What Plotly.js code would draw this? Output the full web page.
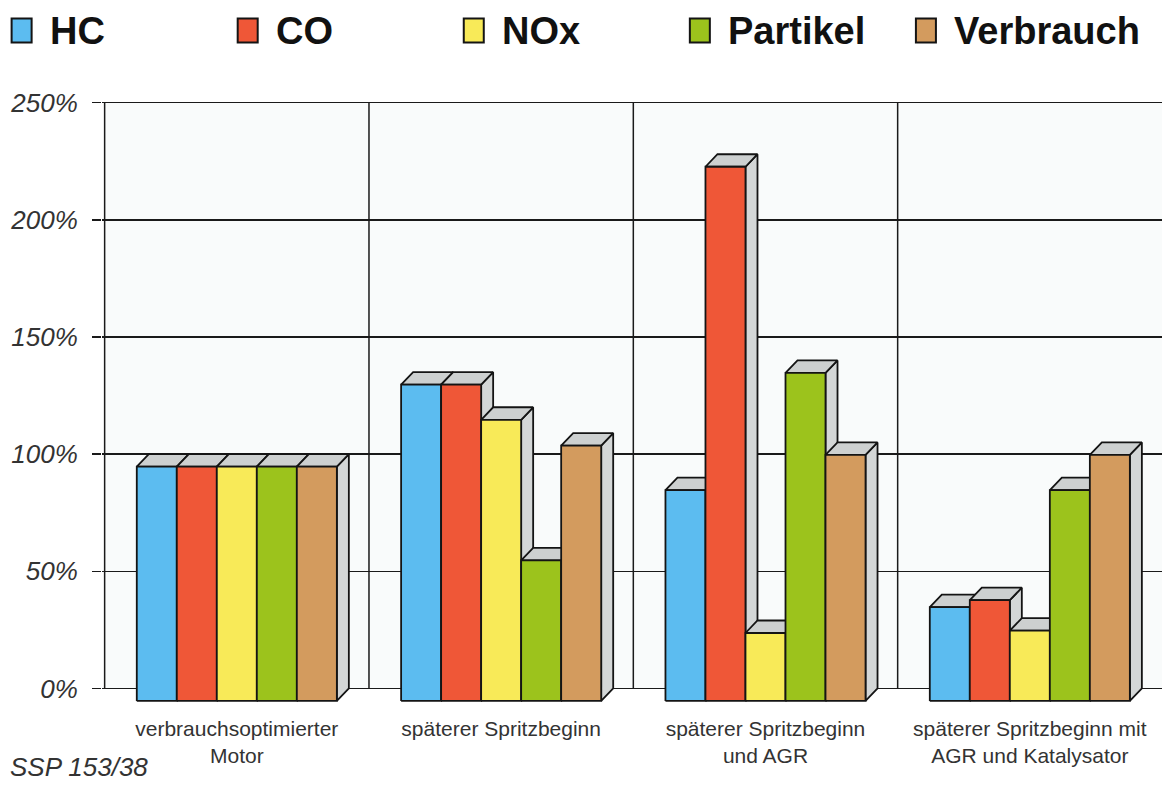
<!DOCTYPE html>
<html>
<head>
<meta charset="utf-8">
<script src="https://cdn.plot.ly/plotly-3.0.1.min.js"></script>
<style>html,body{margin:0;padding:0;background:#fff;}#chart{width:1166px;height:786px;}</style>
</head>
<body>
<div id="chart"></div>
<script>
// ---------------- DATA ----------------
const categories = [
  'verbrauchsoptimierter<br>Motor',
  'späterer Spritzbeginn',
  'späterer Spritzbeginn<br>und AGR',
  'späterer Spritzbeginn mit<br>AGR und Katalysator'
];
const seriesNames = ['HC', 'CO', 'NOx', 'Partikel', 'Verbrauch'];
const hc        = [100, 135,  90, 40];
const co        = [100, 135, 228, 43];
const nox       = [100, 120,  29, 30];
const partikel  = [100,  60, 140, 90];
const verbrauch = [100, 109, 105, 105];
const yTickVals = [0, 50, 100, 150, 200, 250];
const yTickText = ['0%', '50%', '100%', '150%', '200%', '250%'];
const footnote = 'SSP 153/38';

// ---------------- STYLE ----------------
const seriesValues = [hc, co, nox, partikel, verbrauch];
const colors = ['#5cbcf0', '#ef5737', '#f8ea58', '#9cc31c', '#d39b5e'];
const topGray = '#cdd0d0', sideGray = '#d4d7d7', edge = '#141414';
const W = 1166, H = 786;
const wallLeft = 105, zeroY = 688, pxPerPct = 2.34, catPx = 264.25;
const xRange = [-0.01, 4], yRange = [-7.5, 252];
const mL = wallLeft + xRange[0] * catPx;
const mR = W - (wallLeft + xRange[1] * catPx);
const mT = zeroY - yRange[1] * pxPerPct;
const mB = H - (zeroY - yRange[0] * pxPerPct);
const depthX = 12 / catPx;        // 3D depth, in x-axis units
const depthY = 12.5 / pxPerPct;   // 3D depth, in y-axis units
const barW = 40 / catPx;          // width of one bar, in x-axis units

const traces = [];
function poly(xs, ys, fill) {
  traces.push({
    type: 'scatter', mode: 'lines', x: xs, y: ys, fill: 'toself',
    fillcolor: fill, line: {color: edge, width: 1.8},
    hoverinfo: 'skip', showlegend: false
  });
}
categories.forEach((c, g) => {
  const center = g + 0.5;
  seriesValues.forEach((vals, s) => {
    const v = vals[g];
    const xl = center - 2.5 * barW + s * barW;
    const xr = xl + barW;
    const b = -depthY, t = v - depthY;
    // right side face
    poly([xr, xr + depthX, xr + depthX, xr, xr], [b, 0, v, t, b], sideGray);
    // top face
    poly([xl, xl + depthX, xr + depthX, xr, xl], [t, v, v, t, t], topGray);
    // front face
    poly([xl, xr, xr, xl, xl], [b, b, t, t, b], colors[s]);
  });
});

// wall background + vertical wall lines
const shapes = [{
  type: 'rect', xref: 'x', yref: 'y', x0: 0, x1: 4, y0: 0, y1: 250,
  fillcolor: '#f9fbfb', line: {width: 0}, layer: 'below'
}];
for (let k = 0; k < categories.length; k++) {
  shapes.push({type: 'line', xref: 'x', yref: 'y', x0: k, x1: k, y0: 0, y1: 250,
    line: {color: '#1a1a1a', width: 1.5}, layer: 'between'});
}

// manual legend (pixel helpers)
const plotW = W - mL - mR, plotH = H - mT - mB;
const px2x = p => (p - mL) / plotW;
const px2y = p => (H - mB - p) / plotH;
const annotations = [];
seriesNames.forEach((name, i) => {
  const left = 12 + i * 226;
  shapes.push({type: 'rect', xref: 'paper', yref: 'paper',
    x0: px2x(left), x1: px2x(left + 20), y0: px2y(43), y1: px2y(19),
    fillcolor: colors[i], line: {color: edge, width: 2}});
  annotations.push({xref: 'paper', yref: 'paper', x: px2x(left + 36), y: px2y(31),
    xanchor: 'left', yanchor: 'middle', showarrow: false, text: name,
    font: {family: 'Liberation Sans, Arial, sans-serif', size: 38, weight: 'bold', color: '#111'}});
});
annotations.push({xref: 'paper', yref: 'paper', x: px2x(8), y: px2y(766),
  xanchor: 'left', yanchor: 'middle', showarrow: false, text: footnote,
  font: {family: 'Liberation Sans, Arial, sans-serif', size: 26, style: 'italic', color: '#333'}});

const layout = {
  width: W, height: H, autosize: false,
  margin: {l: mL, r: mR, t: mT, b: mB, pad: 0},
  paper_bgcolor: '#ffffff', plot_bgcolor: '#ffffff',
  showlegend: false,
  xaxis: {
    range: xRange, showgrid: false, zeroline: false, showline: false,
    tickmode: 'array', tickvals: categories.map((c, i) => i + 0.5), ticktext: categories,
    ticks: '', ticklabelstandoff: 8,
    tickfont: {family: 'Liberation Sans, Arial, sans-serif', size: 21, color: '#333'}
  },
  yaxis: {
    range: yRange, showgrid: true, gridcolor: '#1a1a1a', gridwidth: 1.5,
    zeroline: false, showline: false,
    tickmode: 'array', tickvals: yTickVals, ticktext: yTickText,
    ticks: 'outside', ticklen: 9, tickwidth: 1.5, tickcolor: '#1a1a1a',
    ticklabelstandoff: 9,
    tickfont: {family: 'Liberation Sans, Arial, sans-serif', size: 26, style: 'italic', color: '#333'}
  },
  shapes: shapes,
  annotations: annotations
};

Plotly.newPlot('chart', traces, layout, {displayModeBar: false, staticPlot: true});
</script>
</body>
</html>
